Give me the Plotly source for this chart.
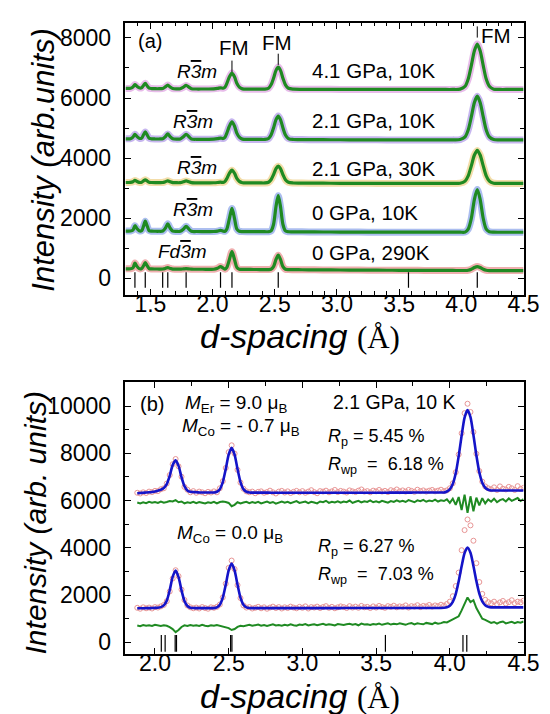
import plotly.graph_objects as go

# ---------------- top panel (a) data ----------------
D_TOP = [1.30, 1.32, 1.34, 1.36, 1.376, 1.39, 1.41, 1.43, 1.445, 1.459,
         1.475, 1.49, 1.51, 1.54, 1.57, 1.60, 1.62, 1.64, 1.66, 1.68,
         1.71, 1.74, 1.765, 1.7875, 1.81, 1.83, 1.87, 1.92, 1.97, 2.01,
         2.04, 2.064, 2.085, 2.10, 2.115, 2.135, 2.156, 2.177, 2.195, 2.215,
         2.24, 2.28, 2.33, 2.38, 2.42, 2.45, 2.47, 2.49, 2.51, 2.528,
         2.546, 2.566, 2.586, 2.61, 2.65, 2.72, 2.82, 2.95, 3.10, 3.25,
         3.40, 3.50, 3.575, 3.65, 3.75, 3.85, 3.93, 3.99, 4.03, 4.055,
         4.08, 4.105, 4.128, 4.151, 4.176, 4.20, 4.225, 4.26, 4.31, 4.38,
         4.45, 4.50]

P_41GPA_10K = [6320, 6320, 6325, 6370, 6450, 6400, 6340, 6340, 6420, 6490,
               6400, 6330, 6315, 6310, 6310, 6320, 6370, 6430, 6365, 6315,
               6305, 6310, 6360, 6420, 6360, 6310, 6300, 6300, 6300, 6305,
               6320, 6340, 6325, 6360, 6485, 6700, 6830, 6700, 6490, 6365,
               6305, 6295, 6295, 6295, 6295, 6325, 6440, 6655, 6920, 7030,
               6920, 6655, 6440, 6325, 6295, 6290, 6290, 6290, 6285, 6285,
               6285, 6285, 6285, 6285, 6285, 6285, 6285, 6295, 6390, 6630,
               7080, 7575, 7800, 7575, 7080, 6630, 6390, 6295, 6285, 6285,
               6285, 6285]
P_21GPA_10K = [4640, 4640, 4645, 4695, 4790, 4730, 4660, 4660, 4775, 4870,
               4765, 4660, 4640, 4635, 4635, 4645, 4710, 4805, 4710, 4645,
               4630, 4635, 4710, 4790, 4710, 4635, 4625, 4625, 4625, 4630,
               4645, 4665, 4650, 4695, 4830, 5060, 5205, 5060, 4830, 4695,
               4630, 4620, 4620, 4620, 4620, 4650, 4770, 5000, 5280, 5400,
               5280, 5000, 4770, 4650, 4618, 4615, 4612, 4610, 4608, 4606,
               4605, 4605, 4605, 4605, 4605, 4605, 4605, 4615, 4705, 4935,
               5370, 5850, 6060, 5850, 5370, 4935, 4705, 4615, 4605, 4605,
               4605, 4605]
P_21GPA_30K = [3185, 3185, 3188, 3210, 3255, 3225, 3190, 3190, 3240, 3275,
               3235, 3192, 3185, 3182, 3182, 3185, 3210, 3240, 3210, 3182,
               3178, 3180, 3208, 3238, 3208, 3180, 3175, 3175, 3175, 3177,
               3185, 3195, 3188, 3222, 3320, 3490, 3595, 3490, 3320, 3222,
               3178, 3172, 3170, 3170, 3170, 3192, 3276, 3444, 3646, 3730,
               3646, 3444, 3276, 3192, 3168, 3165, 3163, 3160, 3158, 3156,
               3155, 3155, 3155, 3155, 3155, 3155, 3155, 3162, 3232, 3408,
               3738, 4101, 4255, 4101, 3738, 3408, 3232, 3162, 3155, 3155,
               3155, 3155]
P_0GPA_10K = [1565, 1565, 1568, 1600, 1745, 1660, 1575, 1580, 1730, 1895,
              1730, 1580, 1562, 1560, 1560, 1568, 1660, 1810, 1660, 1565,
              1555, 1558, 1630, 1725, 1630, 1558, 1552, 1550, 1550, 1552,
              1565, 1590, 1565, 1558, 1635, 1975, 2320, 1975, 1635, 1558,
              1548, 1545, 1545, 1545, 1545, 1545, 1572, 1785, 2385, 2745,
              2385, 1785, 1572, 1545, 1542, 1540, 1538, 1535, 1533, 1531,
              1530, 1530, 1530, 1530, 1530, 1530, 1530, 1530, 1532, 1630,
              1985, 2625, 2950, 2625, 1985, 1630, 1545, 1530, 1528, 1528,
              1528, 1528]
P_0GPA_290K = [310, 310, 312, 340, 500, 405, 315, 318, 410, 515,
               410, 318, 305, 303, 302, 303, 322, 350, 322, 300,
               298, 297, 306, 315, 305, 296, 295, 294, 293, 295,
               330, 383, 333, 295, 355, 610, 880, 610, 355, 296,
               290, 288, 287, 285, 284, 284, 295, 380, 620, 765,
               620, 380, 295, 282, 280, 278, 275, 272, 268, 265,
               262, 260, 260, 258, 256, 255, 254, 253, 253, 262,
               295, 353, 383, 353, 295, 262, 252, 250, 250, 250,
               250, 250]

TOP_PATTERNS = [P_41GPA_10K, P_21GPA_10K, P_21GPA_30K, P_0GPA_10K, P_0GPA_290K]
TOP_COLORS = ["#d27ad6", "#8f6fe0", "#e8bc55", "#5a7ee0", "#e06060"]
TOP_PHASES = [("R", "m"), ("R", "m"), ("R", "m"), ("R", "m"), ("Fd", "m")]
TOP_CONDITIONS = ["4.1 GPa, 10K", "2.1 GPa, 10K", "2.1 GPa, 30K", "0 GPa, 10K", "0 GPa, 290K"]

REFL_TOP = [1.376, 1.459, 1.599, 1.640, 1.7875, 2.064, 2.156, 2.528, 3.575, 4.128]
REFL_TOP_LEVEL = -65
FM_D = [2.156, 2.528, 4.128]
FM_TICK_LEVEL = [7060, 7290, 8200]

# ---------------- bottom panel (b) data ----------------
D_BOT = [1.88, 1.90, 1.92, 1.94, 1.96, 1.98, 2.00, 2.02, 2.04, 2.06,
         2.08, 2.10, 2.12, 2.14, 2.16, 2.18, 2.20, 2.22, 2.24, 2.26,
         2.28, 2.30, 2.32, 2.34, 2.36, 2.38, 2.40, 2.42, 2.44, 2.46,
         2.48, 2.50, 2.52, 2.54, 2.56, 2.58, 2.60, 2.62, 2.64, 2.66,
         2.68, 2.70, 2.72, 2.74, 2.76, 2.78, 2.80, 2.82, 2.84, 2.86,
         2.88, 2.90, 2.92, 2.94, 2.96, 2.98, 3.00, 3.02, 3.04, 3.06,
         3.08, 3.10, 3.12, 3.14, 3.16, 3.18, 3.20, 3.22, 3.24, 3.26,
         3.28, 3.30, 3.32, 3.34, 3.36, 3.38, 3.40, 3.42, 3.44, 3.46,
         3.48, 3.50, 3.52, 3.54, 3.56, 3.58, 3.60, 3.62, 3.64, 3.66,
         3.68, 3.70, 3.72, 3.74, 3.76, 3.78, 3.80, 3.82, 3.84, 3.86,
         3.88, 3.90, 3.92, 3.94, 3.96, 3.98, 4.00, 4.02, 4.04, 4.06,
         4.08, 4.10, 4.12, 4.14, 4.16, 4.18, 4.20, 4.22, 4.24, 4.26,
         4.28, 4.30, 4.32, 4.34, 4.36, 4.38, 4.40, 4.42, 4.44, 4.46, 4.48, 4.50]

OBS_UP = [6330, 6300, 6350, 6320, 6380, 6360, 6410, 6400, 6480, 6520,
          6720, 7080, 7540, 7760, 7450, 7010, 6580, 6460, 6350, 6400,
          6330, 6380, 6350, 6310, 6370, 6340, 6390, 6350, 6520, 6820,
          7380, 8050, 8340, 7990, 7300, 6760, 6500, 6390, 6350, 6380,
          6310, 6370, 6390, 6330, 6360, 6420, 6350, 6300, 6380, 6410,
          6340, 6390, 6320, 6370, 6410, 6350, 6400, 6330, 6380, 6440,
          6360, 6310, 6400, 6380, 6420, 6350, 6390, 6450, 6360, 6410,
          6380, 6340, 6430, 6390, 6360, 6420, 6470, 6380, 6400, 6350,
          6420, 6390, 6450, 6380, 6410, 6360, 6440, 6400, 6470, 6390,
          6430, 6380, 6450, 6410, 6370, 6460, 6400, 6430, 6380, 6420,
          6450, 6390, 6420, 6460, 6400, 6430, 6520, 6730, 7200, 7950,
          8850, 9700, 10100, 9750, 8900, 7980, 7250, 6800, 6600, 6520,
          6480, 6560, 6450, 6600, 6500, 6470, 6580, 6520, 6450, 6610, 6490, 6540]
CALC_UP = [6310, 6320, 6330, 6340, 6350, 6365, 6385, 6420, 6460, 6535,
           6700, 7050, 7500, 7700, 7470, 6990, 6612, 6430, 6370, 6360,
           6350, 6345, 6340, 6340, 6340, 6340, 6340, 6374, 6484, 6784,
           7332, 7946, 8230, 7946, 7332, 6784, 6484, 6374, 6340, 6338,
           6337, 6336, 6335, 6335, 6335, 6334, 6334, 6334, 6333, 6333,
           6333, 6333, 6332, 6332, 6332, 6332, 6331, 6331, 6331, 6331,
           6330, 6330, 6330, 6330, 6330, 6330, 6330, 6330, 6330, 6330,
           6330, 6330, 6330, 6330, 6330, 6330, 6330, 6330, 6330, 6330,
           6332, 6332, 6333, 6333, 6334, 6334, 6335, 6335, 6336, 6336,
           6337, 6337, 6338, 6338, 6339, 6339, 6340, 6340, 6341, 6341,
           6342, 6342, 6343, 6344, 6345, 6385, 6478, 6700, 7154, 7883,
           8750, 9515, 9830, 9530, 8775, 7918, 7199, 6755, 6543, 6458,
           6425, 6425, 6425, 6425, 6425, 6425, 6425, 6425, 6425, 6425, 6425, 6425]
DIFF_UP = [5920, 5880, 5930, 5890, 5950, 5910, 5940, 5900, 5960, 5910,
           5940, 5980, 5960, 6020, 5930, 5960, 5880, 5930, 5900, 5950,
           5890, 5940, 5910, 5880, 5930, 5900, 5950, 5880, 5940, 5960,
           5940, 5900, 5760, 5820, 5930, 5880, 5920, 5950, 5890, 5940,
           5900, 5950, 5880, 5930, 5960, 5900, 5940, 5870, 5920, 5960,
           5910, 5950, 5890, 5940, 5980, 5900, 5930, 5960, 5890, 5950,
           5920, 5880, 5960, 5930, 5990, 5900, 5950, 5920, 5970, 5910,
           5960, 5930, 6000, 5900, 5950, 5990, 5920, 5970, 5940, 6010,
           5930, 5970, 5920, 5990, 5950, 5910, 5980, 5940, 6010, 5950,
           5990, 5940, 6020, 5960, 5930, 6010, 5970, 6030, 5950, 6000,
           5970, 6040, 5960, 6010, 5980, 6050, 5900, 6080, 5820, 6150,
           5600, 6250, 5480, 6180, 5550, 6120, 5800, 6100, 5880, 6050,
           5950, 6080, 5930, 6020, 6060, 5960, 6090, 5990, 6040, 6110, 5980, 6060]

OBS_LO = [1460, 1420, 1480, 1440, 1470, 1430, 1490, 1470, 1520, 1580,
          1740, 2150, 2700, 3050, 2800, 2230, 1790, 1560, 1480, 1440,
          1470, 1430, 1490, 1450, 1420, 1480, 1460, 1500, 1600, 1900,
          2480, 3150, 3460, 3100, 2420, 1870, 1560, 1470, 1490, 1430,
          1460, 1500, 1440, 1480, 1420, 1470, 1510, 1450, 1490, 1430,
          1480, 1450, 1510, 1470, 1440, 1500, 1460, 1520, 1430, 1490,
          1470, 1510, 1450, 1490, 1530, 1460, 1500, 1440, 1480, 1520,
          1490, 1450, 1530, 1470, 1510, 1460, 1540, 1480, 1500, 1450,
          1520, 1470, 1540, 1490, 1460, 1530, 1500, 1550, 1480, 1520,
          1500, 1560, 1470, 1530, 1510, 1570, 1490, 1540, 1520, 1580,
          1510, 1560, 1530, 1590, 1550, 1620, 1720, 1950, 2380, 2950,
          3900, 4750, 5200, 4950, 4300, 3350, 2550, 2050, 1800, 1700,
          1650, 1720, 1620, 1690, 1750, 1640, 1700, 1780, 1660, 1720, 1690, 1760]
CALC_LO = [1440, 1440, 1442, 1444, 1446, 1450, 1456, 1465, 1490, 1560,
           1763, 2205, 2767, 3035, 2760, 2200, 1750, 1535, 1465, 1450,
           1448, 1447, 1446, 1446, 1446, 1446, 1447, 1480, 1589, 1888,
           2433, 3044, 3330, 3044, 2433, 1888, 1589, 1480, 1448, 1446,
           1446, 1446, 1446, 1446, 1446, 1446, 1446, 1446, 1446, 1446,
           1447, 1447, 1447, 1447, 1447, 1447, 1447, 1447, 1447, 1447,
           1448, 1448, 1448, 1448, 1448, 1448, 1448, 1448, 1448, 1448,
           1449, 1449, 1449, 1449, 1449, 1449, 1449, 1449, 1449, 1449,
           1450, 1450, 1450, 1450, 1450, 1450, 1450, 1450, 1450, 1450,
           1451, 1451, 1451, 1451, 1451, 1451, 1451, 1451, 1451, 1451,
           1452, 1452, 1453, 1453, 1461, 1482, 1550, 1712, 2043, 2580,
           3220, 3782, 4015, 3788, 3230, 2594, 2061, 1730, 1570, 1505,
           1478, 1478, 1478, 1478, 1478, 1478, 1478, 1478, 1478, 1478, 1478, 1478]
DIFF_LO = [710, 680, 730, 700, 720, 690, 740, 710, 690, 720,
           700, 640, 560, 430, 520, 650, 720, 690, 730, 700,
           720, 690, 740, 700, 680, 720, 700, 730, 690, 680,
           640, 600, 520, 560, 650, 700, 680, 720, 740, 700,
           720, 750, 700, 730, 690, 740, 760, 710, 730, 700,
           740, 710, 760, 720, 700, 750, 730, 770, 710, 740,
           760, 720, 750, 780, 730, 760, 740, 710, 770, 750,
           730, 760, 780, 740, 770, 720, 790, 750, 760, 730,
           770, 750, 790, 740, 760, 800, 750, 780, 760, 800,
           770, 740, 790, 810, 760, 800, 780, 760, 820, 790,
           770, 830, 790, 810, 860, 840, 900, 980, 1050, 1100,
           1350, 1650, 1900, 1700, 1780, 1450, 1200, 1000, 950, 880,
           820, 860, 790, 850, 880, 800, 840, 870, 810, 860, 830, 880]

REFL_BOT = [2.043, 2.069, 2.137, 2.146, 2.513, 2.522, 3.563, 4.089, 4.115]
REFL_BOT_LEVEL = -45

FONT = "Liberation Sans, Arial, sans-serif"
GREEN = "#1f8a22"

fig = go.Figure()

# ---- top panel traces ----
for vals, col in zip(TOP_PATTERNS, TOP_COLORS):
    fig.add_trace(go.Scatter(x=D_TOP, y=vals, mode="lines",
                             line=dict(color=col, width=7, shape="spline", smoothing=0.8),
                             opacity=0.5, hoverinfo="skip", showlegend=False,
                             xaxis="x", yaxis="y"))
for vals in TOP_PATTERNS:
    fig.add_trace(go.Scatter(x=D_TOP, y=vals, mode="lines",
                             line=dict(color=GREEN, width=3.2, shape="spline", smoothing=0.8),
                             hoverinfo="skip", showlegend=False, xaxis="x", yaxis="y"))
fig.add_trace(go.Scatter(x=REFL_TOP, y=[REFL_TOP_LEVEL] * len(REFL_TOP), mode="markers",
                         marker=dict(symbol="line-ns", size=11, line=dict(color="black", width=1.2)),
                         showlegend=False, xaxis="x", yaxis="y"))
fig.add_trace(go.Scatter(x=FM_D, y=FM_TICK_LEVEL, mode="markers",
                         marker=dict(symbol="line-ns", size=8, line=dict(color="black", width=1)),
                         showlegend=False, xaxis="x", yaxis="y"))

# ---- bottom panel traces ----
for obs, calc, diff in [(OBS_UP, CALC_UP, DIFF_UP), (OBS_LO, CALC_LO, DIFF_LO)]:
    fig.add_trace(go.Scatter(x=D_BOT, y=obs, mode="markers",
                             marker=dict(symbol="circle-open", size=5, color="#e89595",
                                         line=dict(width=1)),
                             showlegend=False, xaxis="x2", yaxis="y2"))
    fig.add_trace(go.Scatter(x=D_BOT, y=calc, mode="lines",
                             line=dict(color="#1414c8", width=2.6, shape="spline", smoothing=0.7),
                             showlegend=False, xaxis="x2", yaxis="y2"))
    fig.add_trace(go.Scatter(x=D_BOT, y=diff, mode="lines",
                             line=dict(color=GREEN, width=2),
                             showlegend=False, xaxis="x2", yaxis="y2"))
fig.add_trace(go.Scatter(x=REFL_BOT, y=[REFL_BOT_LEVEL] * len(REFL_BOT), mode="markers",
                         marker=dict(symbol="line-ns", size=12, line=dict(color="black", width=1.2)),
                         showlegend=False, xaxis="x2", yaxis="y2"))

W, H = 550, 714
L, R = 121, 531
TICKFONT = dict(family=FONT, size=23, color="black")


def ax_common(standoff):
    return dict(showline=True, linecolor="black", linewidth=1.5, mirror="allticks",
                ticks="inside", ticklen=6, tickwidth=1.3, tickcolor="black",
                showgrid=False, zeroline=False, ticklabelstandoff=standoff,
                tickfont=TICKFONT)


xa = ax_common(-12)
xa.update(domain=[L / W, R / W], range=[1.3, 4.5], dtick=0.5, tick0=0, tickformat=".1f",
          minor=dict(ticks="inside", ticklen=3.5, tickwidth=1.1, tickcolor="black", dtick=0.1, tick0=0),
          anchor="y")
ya = ax_common(8)
ya.update(domain=[1 - 287 / H, 1 - 15 / H], range=[-550, 8500], dtick=2000, tick0=0, tickformat="d",
          minor=dict(ticks="inside", ticklen=3.5, tickwidth=1.1, tickcolor="black", dtick=1000, tick0=0),
          anchor="x")
xb = ax_common(-12)
xb.update(domain=[L / W, R / W], range=[1.8, 4.5], dtick=0.5, tick0=0, tickformat=".1f",
          minor=dict(ticks="inside", ticklen=3.5, tickwidth=1.1, tickcolor="black", dtick=0.25, tick0=0),
          anchor="y2")
yb = ax_common(8)
yb.update(domain=[1 - 647 / H, 1 - 375 / H], range=[-500, 11000], dtick=2000, tick0=0, tickformat="d",
          minor=dict(ticks="inside", ticklen=3.5, tickwidth=1.1, tickcolor="black", dtick=1000, tick0=0),
          anchor="x2")

ann = []


def txt(text, x, y, xref="x", yref="y", size=19, xanchor="center", **kw):
    ann.append(dict(text=text, x=x, y=y, xref=xref, yref=yref, showarrow=False,
                    xanchor=xanchor, yanchor="middle",
                    font=dict(family=FONT, size=size, color="black"), **kw))


OVER = "<span style=\"text-decoration:overline\">3</span>"

# top panel labels
txt("(a)", 1.495, 7900, size=20)
phase_x = [1.878, 1.84, 1.878, 1.84, 1.76]
phase_y = [6890, 5230, 3700, 2270, 900]
cond_y = [6900, 5260, 3660, 2170, 840]
for (pa, pb), c, px, py, cy in zip(TOP_PHASES, TOP_CONDITIONS, phase_x, phase_y, cond_y):
    txt("<i>%s%s%s</i>" % (pa, OVER, pb), px, py, size=19)
    txt(c, 2.78, cy, size=20.5, xanchor="left")
txt("FM", 2.175, 7690, size=20.5)
txt("FM", 2.52, 7860, size=20.5)
txt("FM", 4.277, 8070, size=20.5)

# bottom panel labels
NB = "\u00a0"
txt("(b)", 1.978, 10070, "x2", "y2", size=20)
txt("<i>M</i><sub>Er</sub> = 9.0 \u03bc<sub>B</sub>", 2.188, 10070, "x2", "y2", size=19, xanchor="left")
txt("<i>M</i><sub>Co</sub> = - 0.7 \u03bc<sub>B</sub>", 2.168, 9100, "x2", "y2", size=19, xanchor="left")
txt("2.1 GPa, 10 K", 3.195, 10160, "x2", "y2", size=19.5, xanchor="left")
txt("<i>R</i><sub>p</sub> = 5.45 %", 3.162, 8680, "x2", "y2", size=18, xanchor="left")
txt("<i>R</i><sub>wp</sub>" + NB + " = " + NB + "6.18 %", 3.162, 7490, "x2", "y2", size=18, xanchor="left")
txt("<i>M</i><sub>Co</sub> = 0.0 \u03bc<sub>B</sub>", 2.135, 4570, "x2", "y2", size=19, xanchor="left")
txt("<i>R</i><sub>p</sub> = 6.27 %", 3.089, 4030, "x2", "y2", size=18, xanchor="left")
txt("<i>R</i><sub>wp</sub>" + NB + " = " + NB + "7.03 %", 3.089, 2840, "x2", "y2", size=18, xanchor="left")

# axis titles
SERIF = "font-family:'Liberation Serif','Times New Roman',serif;font-size:31px"
xtitle = "<i>d-spacing</i> <span style=\"%s\">(Å)</span>" % SERIF
txt("<i>Intensity (arb.units)</i>", 37 / W, 1 - 152 / H, "paper", "paper", size=31, textangle=-90)
txt("<i>Intensity (arb. units)</i>", 28 / W, 1 - 516 / H, "paper", "paper", size=30, textangle=-90)
txt(xtitle, 301 / W, 1 - 328 / H, "paper", "paper", size=34)
txt(xtitle, 301 / W, 1 - 689 / H, "paper", "paper", size=34)

fig.update_layout(width=W, height=H, margin=dict(l=0, r=0, t=0, b=0),
                  paper_bgcolor="white", plot_bgcolor="white", showlegend=False,
                  xaxis=xa, yaxis=ya, xaxis2=xb, yaxis2=yb, annotations=ann)

fig.write_html("out.html", config={"displayModeBar": False})
